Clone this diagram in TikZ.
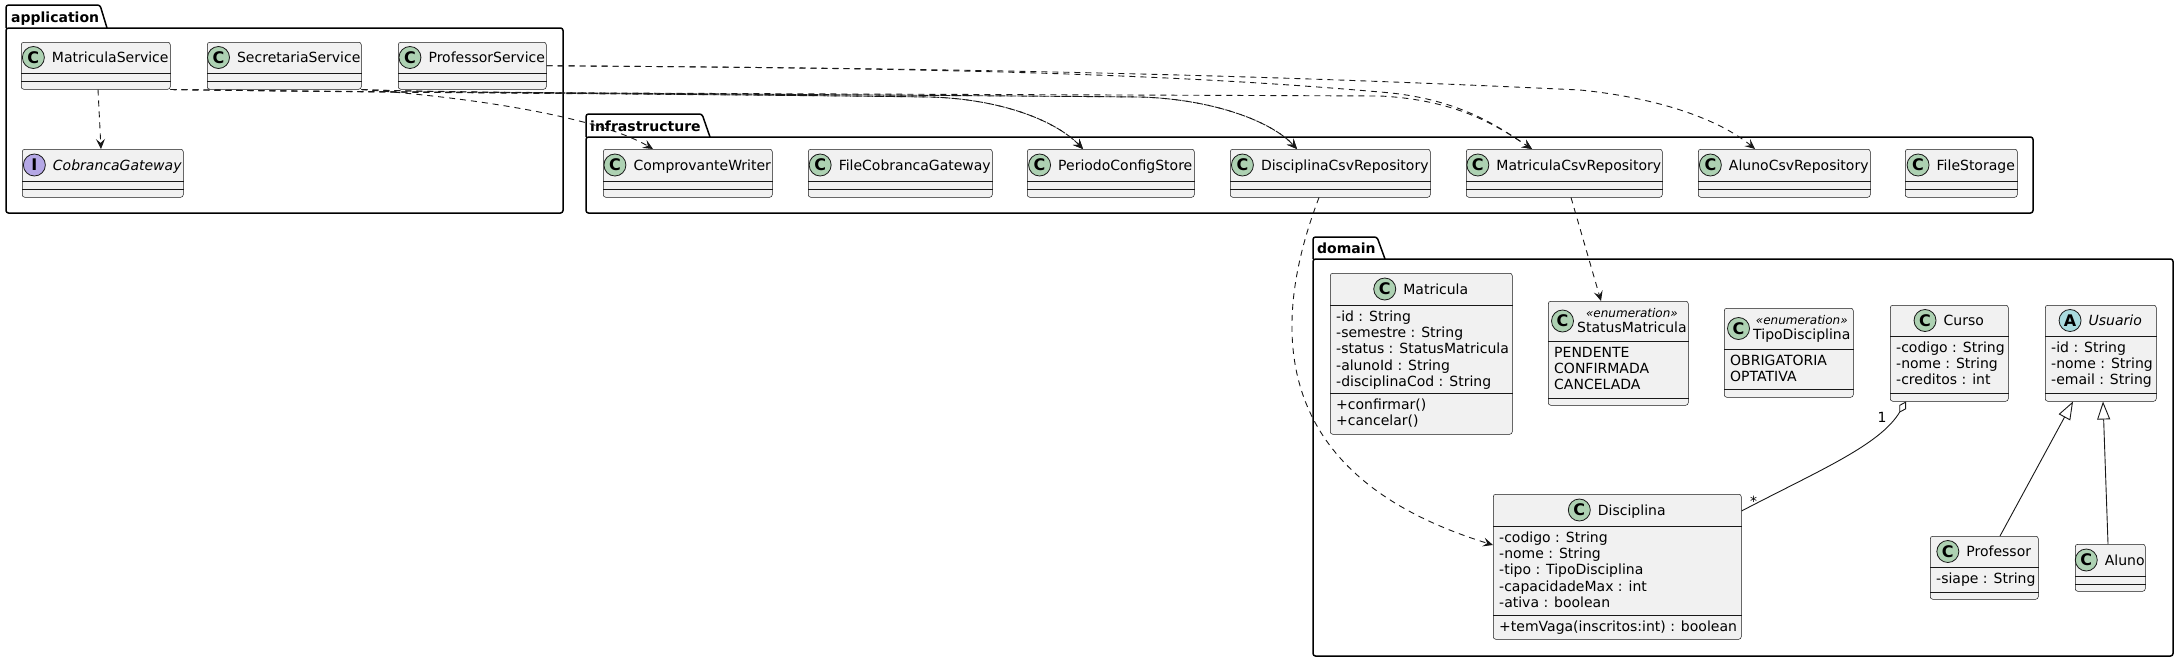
\documentclass[tikz,border=0pt]{standalone}
\usepackage{fontspec}
\setmainfont{DejaVu Sans}
\usetikzlibrary{positioning,arrows.meta}

\definecolor{umlfill}{HTML}{F1F1F1}
\definecolor{umlline}{HTML}{181818}
\definecolor{spotgreen}{HTML}{ADD1B2}
\definecolor{spotpurple}{HTML}{B4A7E5}
\definecolor{spotcyan}{HTML}{A9DCDF}

\tikzset{
  umlbox/.style={draw=umlline, fill=umlfill, line width=0.5pt, rounded corners=2.5pt, inner sep=0pt, anchor=north west},
  umlsep/.style={draw=umlline, line width=0.5pt},
  umlname/.style={font=\fontsize{14pt}{16pt}\selectfont, inner sep=0pt, text height=10.2pt, text depth=0pt},
  umlstereo/.style={font=\fontsize{12pt}{14pt}\selectfont\itshape, inner sep=0pt, text height=8.8pt, text depth=0pt},
  umlattr/.style={font=\fontsize{14pt}{16pt}\selectfont, inner sep=0pt, anchor=base west},
  spot/.style={circle, draw=umlline, line width=0.8pt, minimum size=22pt, inner sep=0pt, font=\fontsize{16pt}{16pt}\selectfont\bfseries},
  spotC/.style={spot, fill=spotgreen},
  spotI/.style={spot, fill=spotpurple},
  spotA/.style={spot, fill=spotcyan},
  pkgline/.style={draw=black, line width=1.5pt, rounded corners=2.5pt},
  pkgtitle/.style={font=\fontsize{14pt}{16pt}\selectfont\bfseries, inner sep=0pt, anchor=base west},
  dep/.style={draw=umlline, line width=0.9pt, dash pattern=on 6pt off 5pt, -{Stealth[length=10pt, width=9pt, inset=4pt]}},
  gen/.style={draw=umlline, line width=0.9pt, -{Triangle[open, length=18pt, width=13pt, fill=white]}},
  agg/.style={draw=umlline, line width=0.9pt, -{Diamond[open, length=13pt, width=8pt, fill=white]}},
  mult/.style={font=\fontsize{14pt}{16pt}\selectfont, inner sep=0pt, anchor=base}
}

% box of a class: name, x1, y1, x2, y2
\newcommand\classframe[5]{\node[umlbox, minimum width={(#4-#2)*1pt}, minimum height={(#5-#3)*1pt}] (#1) at (#2,#3) {};}
% line across a class box, distance from its top
\newcommand\classrule[2]{\draw[umlsep] ([yshift=-#2pt]#1.north west) -- ([yshift=-#2pt]#1.north east);}
% header: node, header height, spot style, letter, name
\newcommand\classhead[5]{%
  \node[umlname] (#1-t) at ([xshift=14.5pt, yshift={-#2pt/2}]#1.north) {#5};
  \node[#3, left=7pt of #1-t] (#1-c) {#4};}
% enumeration header: node, header height, name
\newcommand\enumhead[3]{%
  \node[spotC] (#1-c) at ([xshift=14.5pt, yshift={-#2pt/2}]#1.north west) {C};
  \node[umlname, anchor=west] (#1-t) at ([xshift=29pt, yshift={-#2pt/2-6pt}]#1.north west) {#3};
  \node[umlstereo] (#1-s) at ([yshift=14pt]#1-t.center) {«enumeration»};}
% text lines: node, tag, first baseline, lines
\newcommand\classlines[4]{\foreach \t [count=\i from 0] in {#4}
  \node[umlattr] (#1-#2\i) at ([xshift=6pt, yshift={-(#3+16.2*\i)*1pt}]#1.north west) {\t};}

\begin{document}
\begin{tikzpicture}[x=1pt, y=-1pt]
\useasboundingbox (0,0) rectangle (2178,662);

% ---application
\draw[pkgline] (6,28) -- (6,5) -- (100,5) -- (107,28);
\draw[pkgline] (6,28) rectangle (563,213);
\node[pkgtitle] (app) at (11,22) {application};

\classframe{ms}{21}{42}{170}{89}
\classhead{ms}{31}{spotC}{C}{MatriculaService}
\classrule{ms}{31} \classrule{ms}{39}

\classframe{ss}{207}{42}{361}{89}
\classhead{ss}{31}{spotC}{C}{SecretariaService}
\classrule{ss}{31} \classrule{ss}{39}

\classframe{ps}{398}{42}{546}{89}
\classhead{ps}{31}{spotC}{C}{ProfessorService}
\classrule{ps}{31} \classrule{ps}{39}

\classframe{cg}{22}{149}{183}{197}
\classhead{cg}{32}{spotI}{I}{\itshape CobrancaGateway}
\classrule{cg}{32} \classrule{cg}{40}

% ---infrastructure
\draw[pkgline] (586,137) -- (586,114) -- (702,114) -- (710,137);
\draw[pkgline] (586,137) rectangle (2033,213);
\node[pkgtitle] (infra) at (590,131) {infrastructure};

\classframe{cw}{603}{149}{772}{197}
\classhead{cw}{32}{spotC}{C}{ComprovanteWriter}
\classrule{cw}{32} \classrule{cw}{40}

\classframe{fcg}{808}{149}{992}{197}
\classhead{fcg}{32}{spotC}{C}{FileCobrancaGateway}
\classrule{fcg}{32} \classrule{fcg}{40}

\classframe{pcs}{1027}{149}{1194}{197}
\classhead{pcs}{32}{spotC}{C}{PeriodoConfigStore}
\classrule{pcs}{32} \classrule{pcs}{40}

\classframe{dcr}{1230}{149}{1430}{197}
\classhead{dcr}{32}{spotC}{C}{DisciplinaCsvRepository}
\classrule{dcr}{32} \classrule{dcr}{40}

\classframe{mcr}{1466}{149}{1662}{197}
\classhead{mcr}{32}{spotC}{C}{MatriculaCsvRepository}
\classrule{mcr}{32} \classrule{mcr}{40}

\classframe{acr}{1698}{149}{1870}{197}
\classhead{acr}{32}{spotC}{C}{AlunoCsvRepository}
\classrule{acr}{32} \classrule{acr}{40}

\classframe{fst}{1905}{149}{2017}{197}
\classhead{fst}{32}{spotC}{C}{FileStorage}
\classrule{fst}{32} \classrule{fst}{40}

% ---domain
\draw[pkgline] (1313,259) -- (1313,237) -- (1377,237) -- (1385,259);
\draw[pkgline] (1313,259) rectangle (2173,656);
\node[pkgtitle] (dom) at (1317,253) {domain};

\classframe{mat}{1330}{273}{1512}{434}
\classhead{mat}{32}{spotC}{C}{Matricula}
\classrule{mat}{32} \classrule{mat}{120}
\classlines{mat}{a}{48.5}{-id : String, -semestre : String, -status : StatusMatricula, -alunoId : String, -disciplinaCod : String}
\classlines{mat}{m}{136.5}{+confirmar(), +cancelar()}

\classframe{sm}{1548}{301}{1688}{405}
\enumhead{sm}{40}{StatusMatricula}
\classrule{sm}{40} \classrule{sm}{97}
\classlines{sm}{v}{56.5}{PENDENTE, CONFIRMADA, CANCELADA}

\classframe{td}{1724}{308}{1853}{397}
\enumhead{td}{41}{TipoDisciplina}
\classrule{td}{41} \classrule{td}{81}
\classlines{td}{v}{57.5}{OBRIGATORIA, OPTATIVA}

\classframe{cur}{1890}{305}{2008}{401}
\classhead{cur}{31}{spotC}{C}{Curso}
\classrule{cur}{31} \classrule{cur}{88}
\classlines{cur}{a}{47.5}{-codigo : String, -nome : String, -creditos : int}

\classframe{usu}{2045}{305}{2156}{401}
\classhead{usu}{31}{spotA}{A}{\itshape Usuario}
\classrule{usu}{31} \classrule{usu}{88}
\classlines{usu}{a}{47.5}{-id : String, -nome : String, -email : String}

\classframe{disc}{1493}{494}{1741}{639}
\classhead{disc}{32}{spotC}{C}{Disciplina}
\classrule{disc}{32} \classrule{disc}{121}
\classlines{disc}{a}{48.5}{-codigo : String, -nome : String, -tipo : TipoDisciplina, -capacidadeMax : int, -ativa : boolean}
\classlines{disc}{m}{137.5}{+temVaga(inscritos:int) : boolean}

\classframe{prof}{1930}{536}{2038}{599}
\classhead{prof}{31}{spotC}{C}{Professor}
\classrule{prof}{31} \classrule{prof}{56}
\classlines{prof}{a}{47.5}{-siape : String}

\classframe{alu}{2075}{544}{2145}{591}
\classhead{alu}{32}{spotC}{C}{Aluno}
\classrule{alu}{32} \classrule{alu}{40}

% ---dependencies
\draw[dep] ([xshift=77pt]ms.south west) -- ([xshift=79pt]cg.north west);
\draw[dep] (ss.south east) .. controls (480,98) and (600,118) .. ([xshift=50pt]cw.north west);
\draw[dep] (ms.south east) .. controls (400,93) and (700,94) .. (930,97) .. controls (1000,99) and (1055,120) .. ([xshift=56pt]pcs.north west);
\draw[dep] (ss.south east) .. controls (430,93) and (700,94) .. (930,97) .. controls (1000,99) and (1055,120) .. ([xshift=56pt]pcs.north west);
\draw[dep] (ms.south east) .. controls (400,93) and (800,94) .. (1140,97) .. controls (1210,99) and (1270,120) .. ([xshift=67pt]dcr.north west);
\draw[dep] (ss.south east) .. controls (430,93) and (800,94) .. (1140,97) .. controls (1210,99) and (1270,120) .. ([xshift=67pt]dcr.north west);
\draw[dep] (ms.south east) .. controls (400,93) and (900,94) .. (1380,96) .. controls (1460,100) and (1500,128) .. ([xshift=66pt]mcr.north west);
\draw[dep] (ps.east) .. controls (900,68) and (1150,72) .. (1380,92) .. controls (1460,98) and (1500,128) .. ([xshift=66pt]mcr.north west);
\draw[dep] (ps.east) .. controls (900,68) and (1200,72) .. (1580,90) .. controls (1660,98) and (1720,120) .. ([xshift=57pt]acr.north west);

\draw[dep] ([xshift=89pt]dcr.south west) .. controls (1230,430) and (1380,510) .. ([yshift=-51pt]disc.north west);
\draw[dep] ([xshift=105pt]mcr.south west) -- ([xshift=53pt]sm.north west);

% ---associations
\draw[agg] ([yshift=-17pt]disc.north east) .. controls (1820,470) and (1880,445) .. ([xshift=16pt]cur.south west);
\node[mult] (m1) at ([xshift=-8pt, yshift=-21pt]cur.south west) {1};
\node[mult] (m2) at ([xshift=12pt, yshift=-12pt]disc.north east) {*};

\draw[gen] ([xshift=70pt]prof.north west) -- ([xshift=28pt]usu.south west);
\draw[gen] ([xshift=33pt]alu.north west) -- ([xshift=58pt]usu.south west);

\end{tikzpicture}
\end{document}
